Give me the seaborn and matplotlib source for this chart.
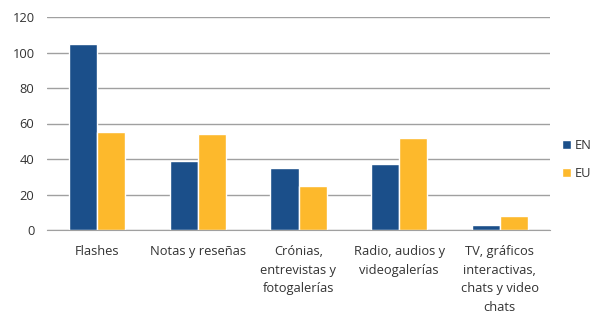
import pandas as pd
import seaborn as sns
import matplotlib.pyplot as plt

categorias = ['Flashes', 'Notas y reseñas', 'Crónias,\nentrevistas y\nfotogalerías',
              'Radio, audios y\nvideogalerías', 'TV, gráficos\ninteractivas,\nchats y video\nchats']
en = [105, 39, 35, 37, 3]
eu = [55, 54, 25, 52, 8]

df = pd.DataFrame({'categoria': categorias * 2,
                   'valor': en + eu,
                   'serie': ['EN'] * 5 + ['EU'] * 5})

sns.set_style('white')
plt.rcParams['font.family'] = ['Open Sans', 'DejaVu Sans']

fig = plt.figure(figsize=(6.1, 3.24), dpi=100)
ax = fig.add_axes([47 / 610, 1 - 230 / 324, (550 - 47) / 610, (230 - 17) / 324])

sns.barplot(data=df, x='categoria', y='valor', hue='serie', ax=ax,
            palette={'EN': '#1b4f8a', 'EU': '#fdb92c'}, width=0.56,
            saturation=1, legend=True)

ax.set_ylim(0, 120)
ax.set_yticks(range(0, 121, 20))
ax.yaxis.grid(True, color='#a0a0a0', linewidth=1)
ax.set_axisbelow(True)
ax.set_xlabel('')
ax.set_ylabel('')
for s in ['left', 'top', 'right']:
    ax.spines[s].set_visible(False)
ax.spines['bottom'].set_color('#a0a0a0')
ax.set_xlim(-0.5, 4.5)

# category labels between separator ticks
ax.set_xticks(range(5))
ax.set_xticklabels(categorias, fontsize=9.3, color='#333333', linespacing=1.55, va='top')
ax.tick_params(axis='x', length=0, pad=11)
ax.set_xticks([i + 0.5 for i in range(-1, 5)], minor=True)
ax.tick_params(axis='x', which='minor', length=5, color='#a0a0a0')
ax.tick_params(axis='y', length=0, labelsize=9.3, colors='#333333', pad=9)

leg = ax.legend(loc='center left', bbox_to_anchor=(1.0, 0.33), frameon=False,
                fontsize=9.3, handlelength=0.7, handleheight=0.7, handletextpad=0.3,
                labelspacing=1.2)
for t in leg.get_texts():
    t.set_color('#333333')

fig.savefig('out.png', dpi=100)
